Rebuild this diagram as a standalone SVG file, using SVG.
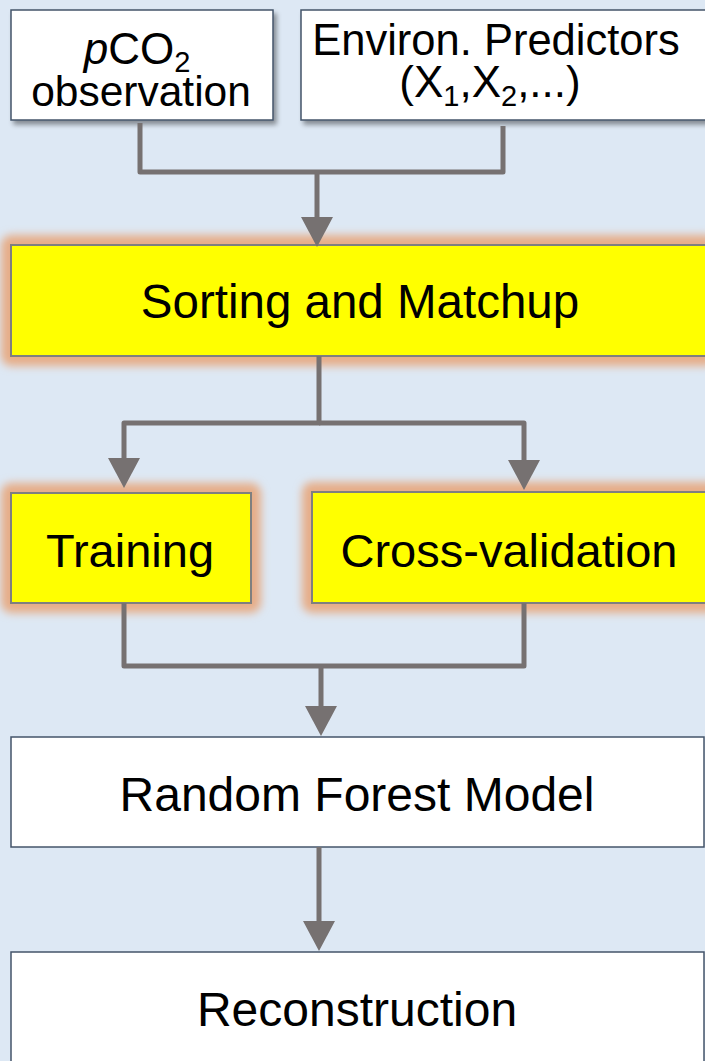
<svg xmlns="http://www.w3.org/2000/svg" width="705" height="1061" viewBox="0 0 705 1061">
<style>
.txt{font-family:"Liberation Sans",Arial,sans-serif;fill:#000;text-anchor:middle}
.wbox{fill:#fff;stroke:#44546a;stroke-width:1.5}
.ybox{fill:#ffff00;stroke:#7f7f7f;stroke-width:2}
.glow{fill:#e6ad88;filter:url(#blur)}
.conn{fill:none;stroke:#767171;stroke-width:5;stroke-linejoin:round}
</style>
<defs>
<filter id="blur" x="-20%" y="-40%" width="140%" height="180%">
<feGaussianBlur stdDeviation="4"/>
</filter>
<filter id="shadow" x="-10%" y="-10%" width="130%" height="140%">
<feGaussianBlur in="SourceAlpha" stdDeviation="2.5"/>
<feOffset dx="3" dy="4" result="b"/>
<feComponentTransfer><feFuncA type="linear" slope="0.4"/></feComponentTransfer>
<feMerge><feMergeNode/><feMergeNode in="SourceGraphic"/></feMerge>
</filter>
<marker id="arrow" markerUnits="userSpaceOnUse" markerWidth="30" markerHeight="32" refX="0" refY="16" orient="auto" viewBox="0 0 30 32">
<path d="M0,0 L30,16 L0,32 Z" fill="#767171"/>
</marker>
</defs>
<rect x="0" y="0" width="705" height="1061" fill="#dde8f4"/>

<g id="node-pco2">
<rect class="wbox" x="11" y="10" width="262" height="110" filter="url(#shadow)"/>
<text class="txt" x="137" y="64" font-size="44"><tspan font-style="italic">p</tspan>CO<tspan dy="8" font-size="29">2</tspan></text>
<text class="txt" x="141" y="106" font-size="42.5">observation</text>
</g>

<g id="node-environ">
<rect class="wbox" x="301" y="10" width="410" height="110" filter="url(#shadow)"/>
<text class="txt" x="496" y="55" font-size="43.5">Environ. Predictors</text>
<text class="txt" x="490" y="97" font-size="44">(X<tspan dy="9" font-size="29">1</tspan><tspan dy="-9">,X</tspan><tspan dy="9" font-size="29">2</tspan><tspan dy="-9">,...)</tspan></text>
</g>

<g id="node-sorting">
<rect class="glow" x="1" y="235" width="716" height="131" rx="10"/>
<rect class="ybox" x="11" y="245" width="700" height="111"/>
<text class="txt" x="360" y="318" font-size="47.5">Sorting and Matchup</text>
</g>

<g id="node-training">
<rect class="glow" x="1" y="483" width="260" height="130" rx="10"/>
<rect class="ybox" x="11" y="493" width="240" height="110"/>
<text class="txt" x="130" y="567" font-size="47">Training</text>
</g>

<g id="node-crossval">
<rect class="glow" x="302" y="482" width="420" height="131" rx="10"/>
<rect class="ybox" x="312" y="492" width="400" height="111"/>
<text class="txt" x="509" y="567" font-size="47">Cross-validation</text>
</g>

<g id="node-rf">
<rect class="wbox" x="11" y="737" width="693" height="110"/>
<text class="txt" x="357" y="811" font-size="48">Random Forest Model</text>
</g>

<g id="node-recon">
<rect class="wbox" x="11" y="952" width="693" height="120"/>
<text class="txt" x="357" y="1026" font-size="48">Reconstruction</text>
</g>

<g id="connectors">
<path class="conn" d="M140,123 V172 H503 V126"/>
<path class="conn" d="M317,172 V217" marker-end="url(#arrow)"/>
<path class="conn" d="M319,356 V423 H124 V458" marker-end="url(#arrow)"/>
<path class="conn" d="M319,423 H524 V460" marker-end="url(#arrow)"/>
<path class="conn" d="M124,603 V666 H524 V603"/>
<path class="conn" d="M321,666 V706" marker-end="url(#arrow)"/>
<path class="conn" d="M319,847 V921" marker-end="url(#arrow)"/>
</g>
</svg>
